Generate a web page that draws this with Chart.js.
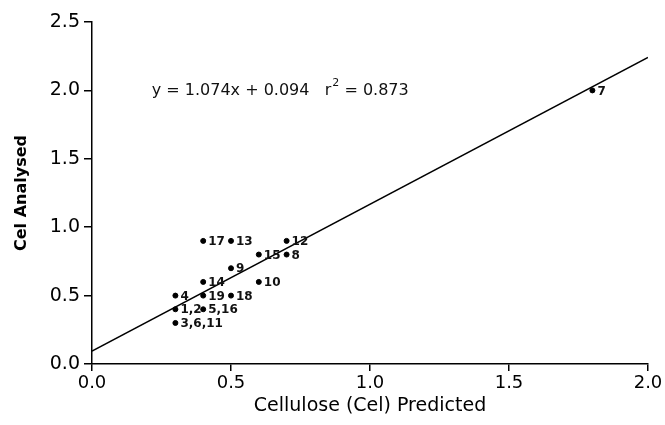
<!DOCTYPE html>
<html>
<head>
<meta charset="utf-8">
<script src="https://cdn.jsdelivr.net/npm/chart.js@4"></script>
<style>
  html, body { margin: 0; padding: 0; background: #fff; }
  #wrap { width: 665px; height: 425px; position: relative; }
</style>
</head>
<body>
<div id="wrap"><canvas id="chart"></canvas></div>
<script>
// DATA
let predictedX = [0.4, 0.5, 0.7, 0.6, 0.7, 0.5, 0.4, 0.6, 0.3, 0.4, 0.5, 0.3, 0.4, 0.3, 1.8];
let analysedY  = [0.9, 0.9, 0.9, 0.8, 0.8, 0.7, 0.6, 0.6, 0.5, 0.5, 0.5, 0.4, 0.4, 0.3, 2.0];
let sampleLabels = ["17", "13", "12", "15", "8", "9", "14", "10", "4", "19", "18", "1,2", "5,16", "3,6,11", "7"];

let slope = 1.074;
let intercept = 0.094;
let rSquared = 0.873;
let fitRange = [0, 2.0];

let xTicks = [0, 0.5, 1.0, 1.5, 2.0];
let yTicks = [0, 0.5, 1.0, 1.5, 2.0, 2.5];

let points = predictedX.map((x, i) => ({ x: x, y: analysedY[i] }));
let fitLine = fitRange.map(x => ({ x: x, y: slope * x + intercept }));

// LABELS NEXT TO POINTS + EQUATION
const annotate = {
    id: "annotate",
    afterDatasetsDraw(chart) {
        let ctx = chart.ctx;
        let meta = chart.getDatasetMeta(0);
        ctx.save();
        ctx.fillStyle = "#111";
        ctx.font = "bold 12px 'DejaVu Sans'";
        ctx.textBaseline = "middle";
        meta.data.forEach((pt, i) => {
            ctx.fillText(sampleLabels[i], pt.x + 5, pt.y + 1);
        });

        let xs = chart.scales.x, ys = chart.scales.y;
        let ex = xs.getPixelForValue(0.215);
        let ey = ys.getPixelForValue(2.0);
        ctx.font = "16px 'DejaVu Sans'";
        let t1 = "y = " + slope.toFixed(3) + "x + " + intercept.toFixed(3) + "   r";
        ctx.fillText(t1, ex, ey);
        let w = ctx.measureText(t1).width;
        ctx.font = "11px 'DejaVu Sans'";
        ctx.fillText("2", ex + w + 1, ey - 7);
        ctx.font = "16px 'DejaVu Sans'";
        ctx.fillText(" = " + rSquared.toFixed(3), ex + w + 8, ey);
        ctx.restore();
    }
};

new Chart(document.getElementById("chart"), {
    type: "scatter",
    data: {
        datasets: [
            {
                label: "Samples",
                data: points,
                backgroundColor: "#000",
                borderColor: "#000",
                pointRadius: 2.5,
                pointHoverRadius: 2.5
            },
            {
                label: "Fit",
                type: "line",
                data: fitLine,
                borderColor: "#000",
                borderWidth: 1.5,
                pointRadius: 0,
                fill: false
            }
        ]
    },
    options: {
        responsive: true,
        maintainAspectRatio: false,
        animation: false,
        layout: { padding: { top: 22, right: 17, left: 0, bottom: 8 } },
        plugins: {
            legend: { display: false },
            tooltip: { enabled: false }
        },
        scales: {
            x: {
                type: "linear",
                min: 0,
                max: 2.0,
                afterBuildTicks: s => { s.ticks = xTicks.map(v => ({ value: v })); },
                afterFit: s => { s.height = 53; },
                grid: { drawOnChartArea: false, drawTicks: true, tickLength: 7, color: "#000", lineWidth: 1.5 },
                border: { display: true, color: "#000", width: 1.5 },
                ticks: {
                    color: "#000",
                    font: { size: 18, family: "'DejaVu Sans'" },
                    padding: 2,
                    callback: v => v.toFixed(1)
                },
                title: {
                    display: true,
                    text: "Cellulose (Cel) Predicted",
                    color: "#000",
                    font: { size: 19, family: "'DejaVu Sans'" },
                    padding: { top: 2, bottom: 0 }
                }
            },
            y: {
                type: "linear",
                min: 0,
                max: 2.5,
                afterBuildTicks: s => { s.ticks = yTicks.map(v => ({ value: v })); },
                afterFit: s => { s.width = 92; },
                grid: { drawOnChartArea: false, drawTicks: true, tickLength: 8, color: "#000", lineWidth: 1.5 },
                border: { display: true, color: "#000", width: 1.5 },
                ticks: {
                    color: "#000",
                    font: { size: 19, family: "'DejaVu Sans'" },
                    padding: 4,
                    callback: v => v.toFixed(1)
                },
                title: {
                    display: true,
                    text: "Cel Analysed",
                    color: "#000",
                    font: { size: 16, family: "'DejaVu Sans'", weight: "bold" },
                    padding: { top: 12, bottom: 4 }
                }
            }
        }
    },
    plugins: [annotate]
});
</script>
</body>
</html>
